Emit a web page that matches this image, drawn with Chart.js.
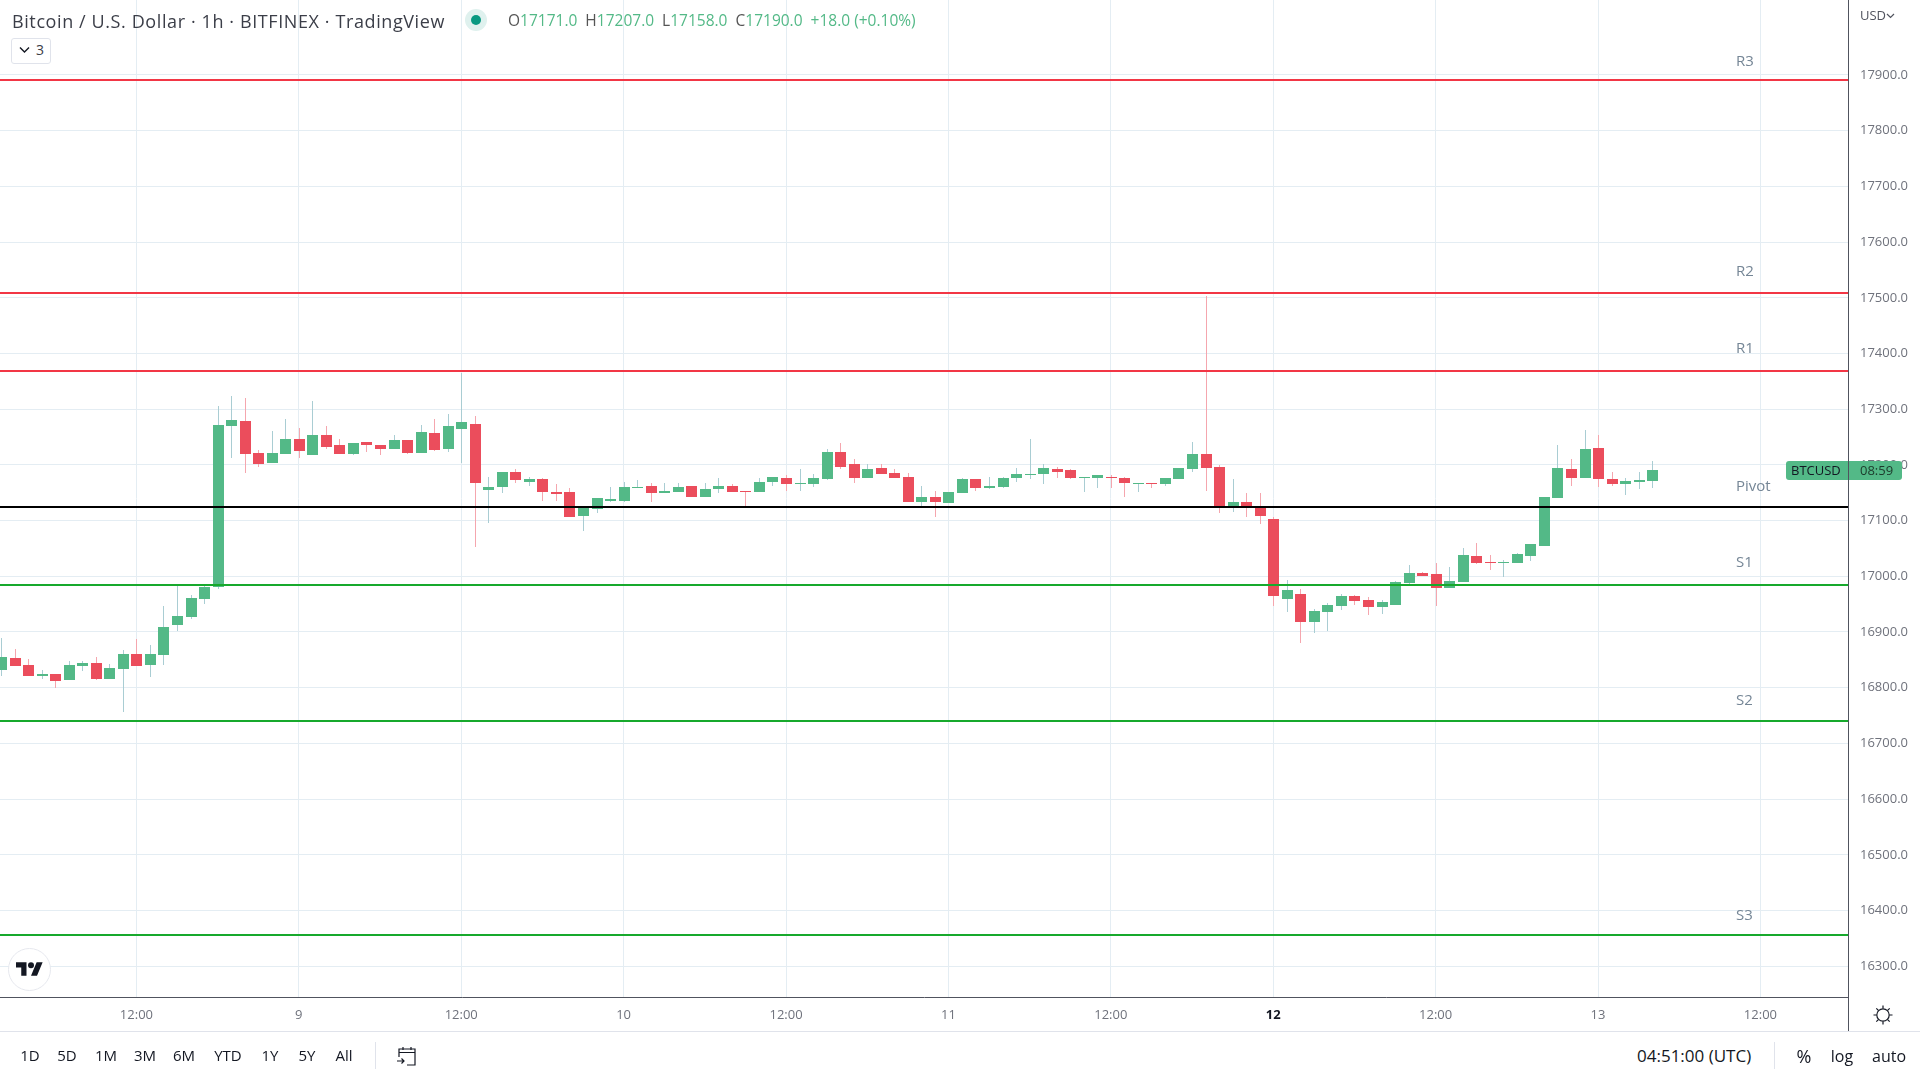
<!DOCTYPE html>
<html><head><meta charset="utf-8">
<script src="https://cdn.jsdelivr.net/npm/chart.js@4"></script>
<style>
html,body{margin:0;padding:0;background:#fff;width:1920px;height:1080px;overflow:hidden;font-family:"Open Sans",sans-serif;color:#131722}
#c{position:absolute;left:0;top:0}
.t{position:absolute;white-space:nowrap;line-height:1}
.cx{transform:translateX(-50%)}
.ln{position:absolute;background:#e0e3eb}
</style></head><body>
<canvas id="c" width="1920" height="1031"></canvas>

<div class="t" style="left:12px;top:12px;font-size:18px;letter-spacing:.6px;color:#3b3e48" id="title">Bitcoin / U.S. Dollar · 1h · BITFINEX · TradingView</div>
<div style="position:absolute;left:465px;top:9px;width:22px;height:22px;border-radius:50%;background:#dff1ee"></div>
<div style="position:absolute;left:471px;top:15px;width:10px;height:10px;border-radius:50%;background:#089981"></div>
<div class="t" id="ohlc" style="left:508px;top:13px;font-size:15.5px;color:#53b987"><span style="color:#555">O</span>17171.0 <span style="color:#555">&nbsp;H</span>17207.0 <span style="color:#555">&nbsp;L</span>17158.0 <span style="color:#555">&nbsp;C</span>17190.0 &nbsp;+18.0 (+0.10%)</div>
<div style="position:absolute;left:11px;top:38px;width:38px;height:24px;border:1px solid #e0e3eb;border-radius:3px;background:#fff"></div>
<svg style="position:absolute;left:19px;top:46px" width="11" height="8"><path d="M1 1.5 L5.5 6 L10 1.5" fill="none" stroke="#131722" stroke-width="1.4"/></svg>
<div class="t" style="left:36px;top:43px;font-size:14px;color:#3b3e48">3</div>

<div style="position:absolute;left:8px;top:948px;width:41px;height:41px;border:1px solid #e6e8ee;border-radius:50%;background:#fff"></div>
<svg style="position:absolute;left:16px;top:962px" width="27" height="14" viewBox="0 0 36 18"><path d="M14 18H7V7H0V0h14v18zM28 18h-8L27.5 0h8L28 18z" fill="#131722"/><circle cx="20" cy="4" r="4" fill="#131722"/></svg>

<div style="position:absolute;left:1848px;top:0;width:1px;height:1031px;background:#50535e"></div>
<div class="ln" style="left:0;top:1031px;width:1920px;height:1px"></div>
<div class="t" style="left:1860px;top:9px;font-size:13px;color:#50535e">USD</div>
<svg style="position:absolute;left:1886px;top:13px" width="9" height="6"><path d="M1 1 L4.5 4.5 L8 1" fill="none" stroke="#50535e" stroke-width="1.2"/></svg>

<div style="position:absolute;left:1786px;top:461px;width:62px;height:19px;background:#53b987;border-radius:3px 0 0 3px"></div>
<div style="position:absolute;left:1849px;top:461px;width:53px;height:19px;background:#53b987;border-radius:0 3px 3px 0"></div>
<div class="t" style="left:1791px;top:464px;font-size:13px;color:#131722">BTCUSD</div>
<div class="t" style="left:1860px;top:464px;font-size:13px;color:#1c3a2b">08:59</div>

<svg style="position:absolute;left:1873px;top:1005px" width="20" height="20" viewBox="0 0 20 20" fill="none" stroke="#131722" stroke-width="1.2"><circle cx="10" cy="10" r="6.2"/><path d="M10 0.5V3.5M10 16.5V19.5M0.5 10H3.5M16.5 10H19.5M3.3 3.3L5.4 5.4M14.6 14.6L16.7 16.7M3.3 16.7L5.4 14.6M14.6 5.4L16.7 3.3"/></svg>

<div class="t cx" style="left:30px;top:1048px;font-size:15px">1D</div>
<div class="t cx" style="left:67px;top:1048px;font-size:15px">5D</div>
<div class="t cx" style="left:106px;top:1048px;font-size:15px">1M</div>
<div class="t cx" style="left:145px;top:1048px;font-size:15px">3M</div>
<div class="t cx" style="left:184px;top:1048px;font-size:15px">6M</div>
<div class="t cx" style="left:228px;top:1048px;font-size:15px">YTD</div>
<div class="t cx" style="left:270px;top:1048px;font-size:15px">1Y</div>
<div class="t cx" style="left:307px;top:1048px;font-size:15px">5Y</div>
<div class="t cx" style="left:344px;top:1048px;font-size:15px">All</div>
<div class="ln" style="left:375px;top:1042px;width:1px;height:27px"></div>
<svg style="position:absolute;left:396px;top:1046px" width="22" height="20" viewBox="0 0 22 20" fill="none" stroke="#131722" stroke-width="1.2"><path d="M3 11V3H19V19H11M3 6.5H19M7 1V4M15 1V4M1 15H8M5.5 12.5L8 15L5.5 17.5"/></svg>

<div class="t" style="left:1637px;top:1047px;font-size:17px">04:51:00 (UTC)</div>
<div class="ln" style="left:1774px;top:1042px;width:1px;height:27px"></div>
<div class="t cx" style="left:1804px;top:1047px;font-size:18px">%</div>
<div class="t cx" style="left:1842px;top:1048px;font-size:16px">log</div>
<div class="t cx" style="left:1889px;top:1048px;font-size:16px">auto</div>

<script>
const hours=[-10,-9,-8,-7,-6,-5,-4,-3,-2,-1,0,1,2,3,4,5,6,7,8,9,10,11,12,13,14,15,16,17,18,19,20,21,22,23,24,25,26,27,28,29,30,31,32,33,34,35,36,37,38,39,40,41,42,43,44,45,46,47,48,49,50,51,52,53,54,55,56,57,58,59,60,61,62,63,64,65,66,67,68,69,70,71,72,73,74,75,76,77,78,79,80,81,82,83,84,85,86,87,88,89,90,91,92,93,94,95,96,97,98,99,100,101,102,103,104,105,106,107,108,109,110,111,112];
const opens=[16832,16854,16841,16821,16825,16814,16839,16845,16816,16834,16861,16841,16859,16913,16927,16960,16981,17270,17279,17222,17204,17220,17247,17218,17254,17236,17220,17241,17236,17229,17245,17222,17258,17229,17265,17274,17155,17160,17188,17170,17174,17152,17151,17108,17120,17136,17136,17159,17163,17149,17152,17163,17142,17156,17163,17154,17151,17170,17177,17165,17165,17174,17224,17201,17176,17195,17186,17179,17133,17142,17131,17149,17174,17158,17161,17176,17183,17183,17193,17190,17176,17177,17179,17177,17165,17167,17165,17174,17192,17220,17197,17127,17133,17124,17102,16959,16968,16918,16936,16946,16964,16958,16945,16949,16988,17006,17004,16979,16990,17036,17026,17024,17024,17036,17054,17140,17192,17176,17230,17174,17165,17169,17171];
const highs=[16890,16870,16852,16832,16825,16848,16848,16855,16843,16868,16888,16877,16947,16983,16967,16985,17306,17324,17320,17227,17261,17283,17266,17315,17270,17247,17240,17241,17236,17254,17245,17272,17283,17292,17365,17288,17179,17188,17193,17179,17176,17165,17158,17122,17140,17161,17170,17172,17168,17167,17168,17163,17167,17176,17165,17154,17177,17179,17181,17193,17183,17229,17240,17210,17201,17201,17192,17185,17163,17154,17151,17176,17174,17179,17179,17195,17247,17202,17197,17192,17179,17181,17181,17179,17168,17168,17176,17195,17242,17503,17199,17174,17149,17149,17106,16993,16977,16941,16952,16968,16966,16963,16958,16992,17020,17008,17024,17017,17051,17060,17038,17029,17042,17058,17142,17235,17210,17262,17253,17187,17176,17187,17207];
const lows=[16821,16839,16821,16816,16799,16814,16830,16814,16816,16757,16839,16819,16841,16902,16924,16951,16977,17213,17186,17196,17204,17220,17213,17218,17229,17220,17218,17223,17218,17229,17220,17222,17225,17223,17204,17053,17096,17149,17167,17163,17135,17136,17106,17081,17113,17133,17133,17159,17133,17149,17152,17142,17142,17149,17152,17127,17151,17163,17154,17154,17160,17172,17193,17168,17176,17183,17177,17133,17127,17106,17131,17149,17154,17156,17159,17170,17174,17165,17176,17174,17152,17159,17159,17143,17152,17158,17163,17174,17188,17154,17113,17115,17107,17093,16946,16936,16880,16898,16902,16939,16948,16931,16933,16949,16986,17001,16947,16979,16990,17022,17011,16999,17024,17027,17054,17140,17162,17176,17160,17162,17146,17156,17158];
const closes=[16855,16839,16821,16825,16812,16841,16845,16816,16836,16861,16839,16861,16909,16929,16961,16981,17272,17281,17220,17202,17222,17247,17225,17254,17232,17220,17240,17236,17229,17245,17222,17259,17227,17270,17277,17168,17161,17188,17172,17174,17152,17147,17106,17122,17140,17138,17161,17161,17149,17154,17161,17142,17156,17163,17152,17151,17170,17179,17165,17167,17176,17224,17197,17176,17193,17183,17177,17133,17142,17133,17151,17174,17158,17163,17176,17184,17184,17195,17188,17177,17179,17181,17176,17168,17167,17165,17176,17195,17219,17195,17127,17133,17127,17109,16964,16975,16918,16937,16948,16964,16955,16945,16954,16990,17006,17001,16979,16992,17038,17024,17024,17026,17040,17058,17142,17194,17176,17228,17174,17165,17171,17172,17190];
const levelNames=["R3","R2","R1","Pivot","S1","S2","S3"];
const levelValues=[17891,17509,17369,17124,16984,16740,16356];
const levelLabelValues=[17923,17547,17408,17161,17024,16776,16391];
const levelColors=["#f23645","#f23645","#f23645","#000000","#17a92c","#17a92c","#17a92c"];
const yTicks=[16300,16400,16500,16600,16700,16800,16900,17000,17100,17200,17300,17400,17500,17600,17700,17800,17900];
const xTickHours=[0,12,24,36,48,60,72,84,96,108,120];
const xTickLabels=["12:00","9","12:00","10","12:00","11","12:00","12","12:00","13","12:00"];
const xMin=-10.08,xMax=126.47,yMin=16244.7,yMax=18034.65;

const UP="#53b987",DOWN="#eb4d5c",UPW="#a9cdd3",DOWNW="#f5a6ae";
const up=closes.map((c,i)=>c>=opens[i]);
const barBase={type:"bar",grouped:false,borderWidth:0,borderSkipped:false,inflateAmount:0};
const datasets=[
 ...levelValues.map((v,i)=>({type:"line",label:levelNames[i],data:[{x:xMin,y:v},{x:xMax,y:v}],borderColor:levelColors[i],borderWidth:2,pointRadius:0,order:0})),
 {...barBase,label:"body",order:1,barThickness:11,data:hours.map((h,i)=>({x:h,y:[opens[i],closes[i]]})),backgroundColor:up.map(u=>u?UP:DOWN)},
 {...barBase,label:"wick",order:2,barThickness:1,data:hours.map((h,i)=>({x:h,y:[lows[i],highs[i]]})),backgroundColor:up.map(u=>u?UPW:DOWNW)}
];
const snap={id:"snap",afterDatasetsUpdate(ch){
 ch.data.datasets.forEach((d,di)=>{
  ch.getDatasetMeta(di).data.forEach(el=>{
   if(d.type==="bar"){
    el.x=Math.round(el.x)+0.5;
    let a=Math.round(el.y),b=Math.round(el.base);
    if(a===b)b=a+1;
    el.y=a;el.base=b;
   }else{el.y=Math.round(el.y);}
  });
 });
}};
const labelsPlugin={id:"levelLabels",afterDatasetsDraw(ch){
 const c=ch.ctx,y=ch.scales.y;
 c.save();c.font='15px "Open Sans"';c.fillStyle="#758696";c.textBaseline="middle";c.textAlign="left";
 levelNames.forEach((n,i)=>c.fillText(n,1736,y.getPixelForValue(levelLabelValues[i])));
 c.restore();
}};
const noPad=s=>{s.paddingTop=0;s.paddingBottom=0;s.paddingLeft=0;s.paddingRight=0;};
new Chart(document.getElementById("c"),{
 type:"bar",data:{datasets},plugins:[snap,labelsPlugin],
 options:{responsive:false,animation:false,maintainAspectRatio:false,layout:{padding:0},
  plugins:{legend:{display:false},tooltip:{enabled:false}},
  scales:{
   x:{type:"linear",position:"bottom",offset:false,min:xMin,max:xMax,
    grid:{offset:false,color:"#e4edf3",drawTicks:false,lineWidth:1},
    border:{display:true,color:"#50535e",width:1},
    afterBuildTicks(s){s.ticks=xTickHours.map(v=>({value:v}));},
    afterFit(s){s.height=34;noPad(s);},
    ticks:{autoSkip:false,maxRotation:0,padding:10,
     callback:(v,i)=>xTickLabels[i],
     font:c=>({family:"Open Sans",size:13,weight:xTickLabels[c.index]==="12"?"700":"400"}),
     color:c=>xTickLabels[c.index]==="12"?"#131722":"#6f727c"}},
   y:{type:"linear",position:"right",min:yMin,max:yMax,
    grid:{color:"#e4edf3",drawTicks:false,lineWidth:1},
    border:{display:false},
    afterBuildTicks(s){s.ticks=yTicks.map(v=>({value:v}));},
    afterFit(s){s.width=72;noPad(s);},
    ticks:{autoSkip:false,padding:12,crossAlign:"near",callback:v=>v.toFixed(1),font:{family:"Open Sans",size:13},color:"#6f727c"}}
  }}
});
</script>
</body></html>
